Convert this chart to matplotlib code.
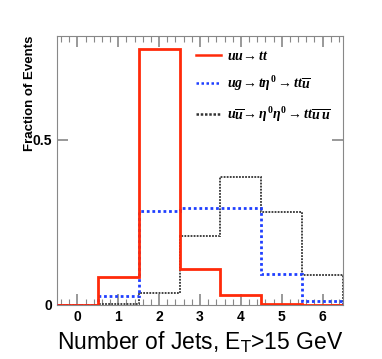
import numpy as np
import matplotlib
matplotlib.use('Agg')
import matplotlib.pyplot as plt
from matplotlib.ticker import MultipleLocator

plt.rcParams['font.family'] = ['Liberation Sans', 'DejaVu Sans']
plt.rcParams['mathtext.fontset'] = 'custom'
plt.rcParams['mathtext.it'] = 'Liberation Serif:italic:bold'
plt.rcParams['mathtext.rm'] = 'Liberation Serif:bold'

# bin edges: number of jets, centred on integers
edges = np.arange(-0.5, 7.0, 1.0)

uu_tt = [0.0, 0.086, 0.776, 0.108, 0.030, 0.002, 0.0]
ug_teta = [0.0, 0.027, 0.285, 0.294, 0.294, 0.094, 0.013]
uubar_etaeta = [0.0, 0.003, 0.035, 0.209, 0.388, 0.281, 0.091]

labels = [r'$uu\!\rightarrow tt$',
          r'$ug\!\rightarrow t\eta^{0}\rightarrow tt\overline{u}$',
          r'$u\overline{u}\!\rightarrow \eta^{0}\eta^{0}\rightarrow tt\overline{u}\,\overline{u}$']

fig = plt.figure(figsize=(3.82, 3.59), dpi=100)
ax = fig.add_axes([57/382, 1 - 305/359, 286/382, 269/359])

ax.stairs(uubar_etaeta, edges, color='#333333', lw=1.3, ls=(0, (1, 0.7)), label=labels[2], zorder=2)
ax.stairs(ug_teta, edges, color='#1f3fff', lw=2.0, ls=(0, (1, 1)), label=labels[1], zorder=3)
ax.stairs(uu_tt, edges, color='#ff2a0a', lw=2.0, label=labels[0], zorder=4)

ax.set_xlim(-0.5, 6.5)
ax.set_ylim(0, 0.815)

ax.xaxis.set_major_locator(MultipleLocator(1))
ax.xaxis.set_minor_locator(MultipleLocator(0.2))
ax.set_yticks([0, 0.5])
ax.set_yticklabels(['0', '0.5'])
ax.tick_params(which='both', direction='in', top=True, right=True, color='#888888')
ax.tick_params(which='major', length=8, width=1.2, labelsize=10)
ax.tick_params(which='minor', length=4, width=0.8)
for lab in ax.get_xticklabels() + ax.get_yticklabels():
    lab.set_fontweight('bold')
for sp in ax.spines.values():
    sp.set_color('#888888')

ax.set_ylabel('Fraction of Events', fontsize=9.5, fontweight='bold', loc='top')
ax.yaxis.set_label_coords(-0.075, 1.0)
ax.set_xlabel(r'Number of Jets, E$_\mathsf{T}$>15 GeV', fontsize=16.5, loc='right')

handles, labs = ax.get_legend_handles_labels()
order = [2, 1, 0]
leg = ax.legend([handles[i] for i in order], [labs[i] for i in order],
                loc='upper right', bbox_to_anchor=(1.0, 1.0), frameon=False,
                fontsize=10, handlelength=1.8, handletextpad=0.4, labelspacing=0.85)
for h in leg.legend_handles:
    h.set_linewidth(1.8)

fig.savefig('out.png', dpi=100)
